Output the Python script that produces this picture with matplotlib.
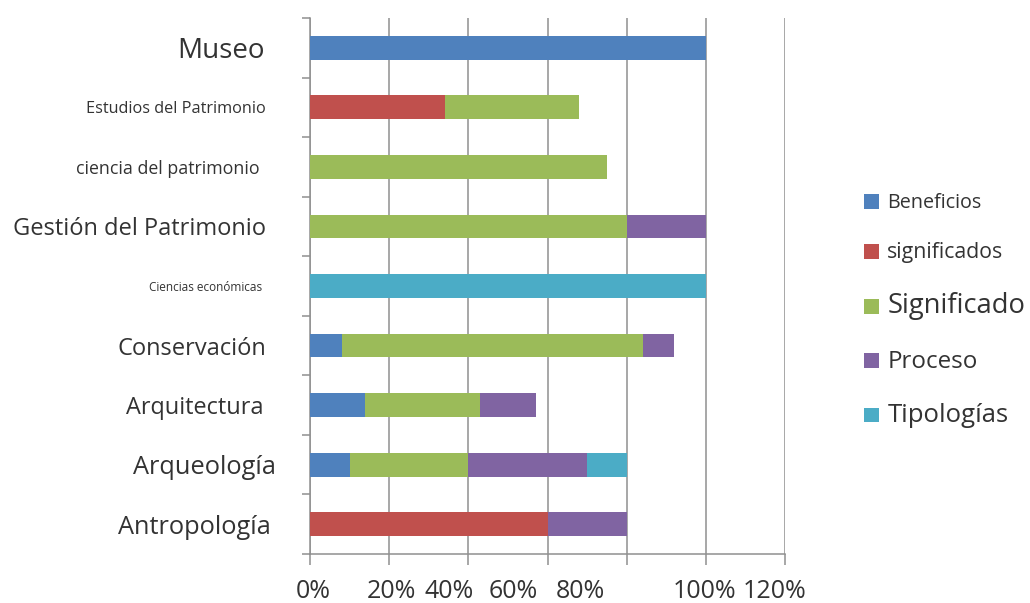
import matplotlib
matplotlib.use('Agg')
import matplotlib.pyplot as plt
import matplotlib.transforms as mtransforms
from matplotlib.patches import Patch
import numpy as np

# ---------------- data ----------------
categories = ['Museo', 'Estudios del Patrimonio', 'ciencia del patrimonio',
              'Gestión del Patrimonio', 'Ciencias económicas', 'Conservación',
              'Arquitectura', 'Arqueología', 'Antropología']
series_names = ['Beneficios', 'significados', 'Significado', 'Proceso', 'Tipologías']
beneficios   = [100, 0, 0, 0, 0, 8, 14, 10, 0]
significados = [0, 34, 0, 0, 0, 0, 0, 0, 60]
significado  = [0, 34, 75, 80, 0, 76, 29, 30, 0]
proceso      = [0, 0, 0, 20, 0, 8, 14, 30, 20]
tipologias   = [0, 0, 0, 0, 100, 0, 0, 10, 0]
xtick_values = [0, 20, 40, 60, 80, 100, 120]
xtick_labels = ['0%', '20%', '40%', '60%', '80%', '100%', '120%']

# ---------------- style ----------------
colors = ['#4F81BD', '#C0504D', '#9BBB59', '#8064A2', '#4BACC6']
ycat_sizes = [20, 11.7, 12.8, 17, 8.5, 17, 16.9, 18.3, 18.3]
ycat_dx_px = [-1, 0, -6, 0, -4, 0, -2, 10, 5]
xlab_dx_px = [3, 2, -19, -34, -46, -1, -10]
legend_sizes = [14.2, 15.3, 19.7, 17.4, 18.5]
gray = '#8f8f8f'
txt = '#333333'

plt.rcParams['font.family'] = ['Open Sans', 'DejaVu Sans']

fig = plt.figure(figsize=(10.3, 6.03), dpi=100)
ax = fig.add_axes([310 / 1030, 49 / 603, 475 / 1030, 536 / 603])

series = [beneficios, significados, significado, proceso, tipologias]
y = np.arange(len(categories))
left = np.zeros(len(categories))
for name, vals, c in zip(series_names, series, colors):
    vals = np.array(vals, dtype=float)
    ax.barh(y, vals, left=left, height=0.4, color=c, label=name, zorder=3)
    left += vals

ax.set_xlim(0, 120)
ax.set_ylim(len(categories) - 0.5, -0.5)

ax.set_axisbelow(True)
ax.grid(axis='x', color=gray, lw=1.1, zorder=0)
for s in ['top', 'right']:
    ax.spines[s].set_visible(False)
for s in ['left', 'bottom']:
    ax.spines[s].set_color(gray)
    ax.spines[s].set_linewidth(1.1)

ax.set_xticks(xtick_values)
ax.set_xticklabels(xtick_labels, fontsize=18, color=txt)
ax.tick_params(axis='x', length=8, width=1.1, color=gray, pad=10)

ax.set_yticks(y)
ax.set_yticklabels(categories, color=txt)
ax.set_yticks(np.arange(len(categories) + 1) - 0.5, minor=True)
ax.tick_params(axis='y', which='major', length=0, pad=31.7)
ax.tick_params(axis='y', which='minor', length=5.8, width=1.1, color=gray)

for lab, fs, dx in zip(ax.get_yticklabels(), ycat_sizes, ycat_dx_px):
    lab.set_fontsize(fs)
    lab.set_transform(lab.get_transform() +
                      mtransforms.ScaledTranslation(dx / 100, 0, fig.dpi_scale_trans))
for lab, dx in zip(ax.get_xticklabels(), xlab_dx_px):
    lab.set_transform(lab.get_transform() +
                      mtransforms.ScaledTranslation(dx / 100, 0, fig.dpi_scale_trans))

handles = [Patch(facecolor=c, edgecolor='none') for c in colors]
leg = fig.legend(handles, series_names, loc='upper left',
                 bbox_to_anchor=(864 / 1030, 1 - 193 / 603),
                 frameon=False, fontsize=14, handlelength=0.78, handleheight=0.78,
                 handletextpad=0.42, labelspacing=1.5, borderaxespad=0, borderpad=0)
for t, fs in zip(leg.get_texts(), legend_sizes):
    t.set_fontsize(fs)
    t.set_color(txt)

fig.savefig('out.png', dpi=100)
